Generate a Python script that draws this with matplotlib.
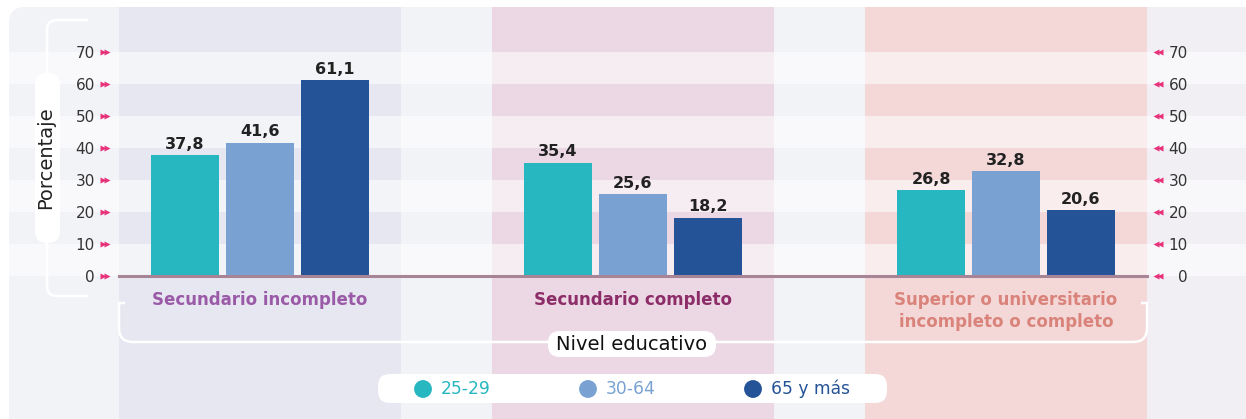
import numpy as np
import matplotlib.pyplot as plt
import matplotlib.transforms as mtransforms
from matplotlib.patches import FancyBboxPatch, PathPatch
from matplotlib.path import Path

# datos
categorias = ["Secundario incompleto", "Secundario completo",
              "Superior o universitario\nincompleto o completo"]
grupos = ["25-29", "30-64", "65 y más"]
v_25_29 = [37.8, 35.4, 26.8]
v_30_64 = [41.6, 25.6, 32.8]
v_65_mas = [61.1, 18.2, 20.6]
ticks = [0, 10, 20, 30, 40, 50, 60, 70]

colores = ["#27b7c0", "#79a2d3", "#255397"]
col_cat = ["#9a5aa8", "#8c2c68", "#d9837b"]
col_banda = ["#e6e7f0", "#ecd8e4", "#f4d8d8"]
rosa = "#e8327a"

W, H = 1246, 419
fig = plt.figure(figsize=(W / 100, H / 100), dpi=100)
fig.patch.set_facecolor("white")

# fondo (tarjeta)
bg = fig.add_axes([0, 0, 1, 1], zorder=0)
bg.set_xlim(0, W)
bg.set_ylim(H, 0)
bg.axis("off")
bg.add_patch(FancyBboxPatch((9, 7), W + 40, H + 40,
                            boxstyle="round,pad=0,rounding_size=16",
                            fc="#f2f3f7", ec="none"))

# ejes de datos
ax = fig.add_axes([119 / W, (H - 276) / H, 1028 / W, 224 / H], zorder=1)
ax.set_facecolor("none")
x = np.arange(len(categorias))
ancho = 0.18
paso = 0.201
ax.set_xlim(-0.378, 2.378)
ax.set_ylim(0, 70)

top = (276 - 7) / 224
for i in range(3):
    ax.axvspan(i - 0.378, i + 0.378, ymin=-0.7, ymax=top, color=col_banda[i],
               lw=0, zorder=0, clip_on=False)
ax.axvspan(2.378, 2.8, ymin=-0.7, ymax=top, color="#f1eef4", lw=0,
           zorder=0, clip_on=False)
for y0 in ticks[::2]:
    ax.axhspan(y0, y0 + 10, xmin=(9 - 119) / 1028, xmax=1.15, color="white",
               alpha=0.55, lw=0, zorder=0.5, clip_on=False)

series = [v_25_29, v_30_64, v_65_mas]
for j, vals in enumerate(series):
    xs = x + (j - 1) * paso
    ax.bar(xs, vals, ancho, color=colores[j], zorder=2)
    for xi, v in zip(xs, vals):
        ax.annotate(f"{v:.1f}".replace(".", ","), (xi, v), xytext=(0, 2.5),
                    textcoords="offset points", ha="center", va="bottom",
                    fontsize=11.5, fontweight="bold", color="#222222")

ax.axhline(0, color="#a88497", lw=2.2, zorder=3, clip_on=False)

for i, cat in enumerate(categorias):
    ax.annotate(cat, (i, 0), xytext=(0, -10.5), textcoords="offset points",
                ha="center", va="top", fontsize=12, fontweight="bold",
                color=col_cat[i], linespacing=1.3)

for s in ax.spines.values():
    s.set_visible(False)
ax.set_xticks([])
ax.set_yticks(ticks, [str(t) for t in ticks])
ax.tick_params(axis="y", length=0, labelsize=11, labelcolor="#333333", pad=17.3)

ax2 = ax.twinx()
ax2.set_ylim(0, 70)
for s in ax2.spines.values():
    s.set_visible(False)
ax2.set_yticks(ticks, [str(t) for t in ticks], ha="right")
ax2.tick_params(axis="y", length=0, labelsize=11, labelcolor="#333333", pad=29.5)

trans = mtransforms.blended_transform_factory(ax.transAxes, ax.transData)
for xf in (-0.0151, -0.0112):
    ax.plot([xf] * len(ticks), ticks, ">", ms=3.8, color=rosa, mec="none",
            transform=trans, clip_on=False, zorder=4)
for xf in (1.0083, 1.0122):
    ax.plot([xf] * len(ticks), ticks, "<", ms=3.8, color=rosa, mec="none",
            transform=trans, clip_on=False, zorder=4)

# capa superior: corchetes, etiquetas, leyenda
ov = fig.add_axes([0, 0, 1, 1], zorder=3)
ov.set_xlim(0, W)
ov.set_ylim(H, 0)
ov.axis("off")

M, L, C = Path.MOVETO, Path.LINETO, Path.CURVE3
izq = Path([(88, 20), (57, 20), (47, 20), (47, 30), (47, 286), (47, 296),
            (57, 296), (88, 296)], [M, L, C, C, L, C, C, L])
ov.add_patch(PathPatch(izq, fill=False, ec="white", lw=1.8))
abajo = Path([(125, 303), (119, 303), (119, 328), (119, 342), (133, 342),
              (1133, 342), (1147, 342), (1147, 328), (1147, 303), (1141, 303)],
             [M, L, L, C, C, L, C, C, L, L])
ov.add_patch(PathPatch(abajo, fill=False, ec="white", lw=1.8))

ov.add_patch(FancyBboxPatch((35, 73), 25, 170,
                            boxstyle="round,pad=0,rounding_size=12",
                            fc="white", ec="none"))
ov.text(46, 158, "Porcentaje", rotation=90, ha="center", va="center",
        fontsize=14, color="#222222")

ov.add_patch(FancyBboxPatch((548, 331), 168, 26,
                            boxstyle="round,pad=0,rounding_size=12",
                            fc="white", ec="none"))
ov.text(632, 344, "Nivel educativo", ha="center", va="center",
        fontsize=14, color="#111111")

ov.add_patch(FancyBboxPatch((378, 374), 509, 29,
                            boxstyle="round,pad=0,rounding_size=12",
                            fc="white", ec="none"))
cx = [423, 588, 753]
ov.scatter(cx, [389] * 3, s=165, c=colores, linewidths=0)
for xc, g, c in zip(cx, grupos, colores):
    ov.text(xc + 18, 389, g, ha="left", va="center", fontsize=12.3, color=c)

fig.savefig("out.png", dpi=100)
